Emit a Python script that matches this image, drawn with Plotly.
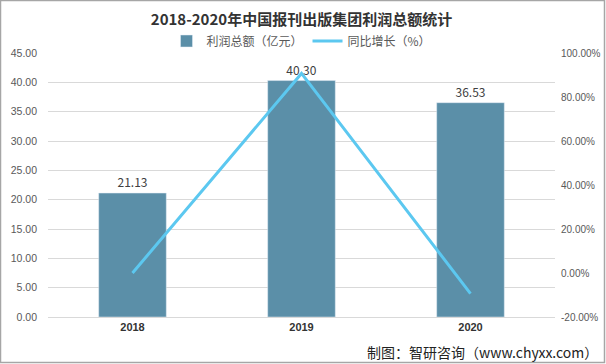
import plotly.graph_objects as go

years = ["2018", "2019", "2020"]
profit = [21.13, 40.30, 36.53]
growth = [0.0, 90.7, -9.35]

left_ticks = [0, 5, 10, 15, 20, 25, 30, 35, 40, 45]
left_labels = ["0.00", "5.00", "10.00", "15.00", "20.00", "25.00", "30.00", "35.00", "40.00", "45.00"]
right_ticks = [-20, 0, 20, 40, 60, 80, 100]
right_labels = ["-20.00%", "0.00%", "20.00%", "40.00%", "60.00%", "80.00%", "100.00%"]

fig = go.Figure()
fig.add_trace(go.Bar(
    x=years, y=profit, name="利润总额（亿元）",
    marker=dict(color="#5B8FA8"), width=0.4,
    text=[f"{v:.2f}" for v in profit], textposition="outside",
    textfont=dict(size=12, color="#404040"), cliponaxis=False,
))
fig.add_trace(go.Scatter(
    x=years, y=growth, name="同比增长（%）", yaxis="y2",
    mode="lines", line=dict(color="#5CC8F0", width=3),
))

font = "Microsoft YaHei, Noto Sans CJK SC, sans-serif"
fig.update_layout(
    width=606, height=364,
    margin=dict(l=48, r=51, t=53, b=47, autoexpand=False),
    paper_bgcolor="white", plot_bgcolor="white",
    font=dict(family=font, size=11, color="#595959"),
    title=dict(text="<b>2018-2020年中国报刊出版集团利润总额统计</b>",
               x=0.5, xanchor="center", xref="paper", y=1 - 20/364, yanchor="middle",
               font=dict(size=15, color="#333333")),
    legend=dict(orientation="h", x=0.5, xanchor="center", yref="container",
                y=1 - 41/364, yanchor="middle",
                font=dict(size=12, color="#595959"), itemwidth=30,
                bgcolor="rgba(0,0,0,0)"),
    showlegend=True,
    bargap=0.6,
    xaxis=dict(showgrid=False, showline=True, linecolor="#d9d9d9", ticks="",
               tickfont=dict(size=11, color="#333333", family="Liberation Sans, Arial"),
               tickprefix="<b>", ticksuffix="</b>"),
    yaxis=dict(range=[0, 45], tickvals=left_ticks, ticktext=left_labels,
               showgrid=True, gridcolor="#d9d9d9", zeroline=False,
               tickfont=dict(size=10.5, color="#595959", family="Liberation Sans, Arial"),
               ticklabelstandoff=10),
    yaxis2=dict(range=[-20, 100], tickvals=right_ticks, ticktext=right_labels,
                overlaying="y", side="right", showgrid=False, zeroline=False,
                tickfont=dict(size=10, color="#595959", family="Liberation Sans, Arial"),
                ticklabelstandoff=5),
)

fig.add_annotation(text="制图：智研咨询（www.chyxx.com）", xref="paper", yref="paper",
                   x=1 + 45/507, y=-35/264, xanchor="right", yanchor="middle", showarrow=False,
                   font=dict(size=14, color="#222222"))

# outer border
fig.add_shape(type="rect", xref="paper", yref="paper",
              x0=-47.5/507, x1=1 + 49.5/507, y0=-45.5/264, y1=1 + 52.5/264,
              line=dict(color="#a6a6a6", width=1.5), fillcolor="rgba(0,0,0,0)", layer="above")

fig.write_html("out.html", config={"displayModeBar": False},
               post_script="document.body.style.margin='0';document.body.style.padding='0';")
